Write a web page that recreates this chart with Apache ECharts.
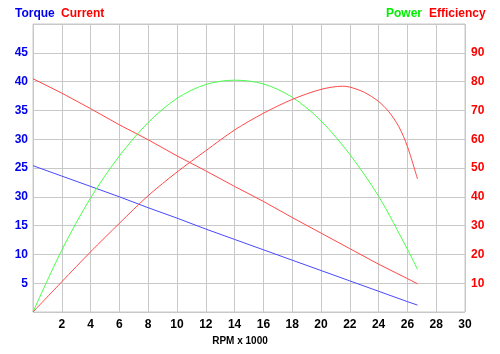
<!DOCTYPE html>
<html>
<head>
<meta charset="utf-8">
<title>Motor curves</title>
<script src="https://cdn.jsdelivr.net/npm/echarts@6/dist/echarts.min.js"></script>
<style>
  html, body { margin: 0; padding: 0; background: #fff; }
  #main { width: 500px; height: 354px; }
</style>
</head>
<body>
<div id="main"></div>
<script>
// RPM x 1000
const rpm = [0, 2, 4, 6, 8, 10, 12, 14, 16, 18, 20, 22, 24, 26, 26.7];
// left axis
const torque  = [25.4, 23.6, 21.8, 20.0, 18.1, 16.3, 14.4, 12.6, 10.8, 9.0, 7.2, 5.4, 3.6, 1.8, 1.2];
const current = [40.5, 38.0, 35.3, 32.5, 29.9, 27.1, 24.5, 21.8, 19.2, 16.4, 13.7, 11.0, 8.3, 5.8, 4.9];
// right axis
const power = [0, 21.5, 39.6, 54.2, 65.8, 74.2, 79.0, 80.5, 79.2, 74.6, 66.4, 54.7, 40.2, 21.8, 14.8];
const effRpm = [0, 2, 4, 6, 8, 10, 12, 14, 16, 18, 20, 21.5, 22, 23, 24, 24.7, 25.4, 26, 26.7];
const efficiency = [0, 10.5, 20.9, 30.8, 40.4, 48.6, 56.0, 63.2, 69.0, 73.8, 77.3, 78.4, 78.1, 76.3, 73.1, 69.6, 64.4, 57.5, 46.2];

// tick labels as printed on the original (note the "30" where 20 sits)
const leftTickLabels  = ['', '5', '10', '15', '30', '25', '30', '35', '40', '45', ''];
const rightTickLabels = ['', '10', '20', '30', '40', '50', '60', '70', '80', '90', ''];
const xTitle = 'RPM x 1000';
const leftNames = ['Torque', 'Current'];
const rightNames = ['Power', 'Efficiency'];

const BLUE = '#0000ee', RED = '#ff0000', GREEN = '#00ee00';
const FONT = '"Liberation Sans", Arial, sans-serif';

function pairs(xs, ys) {
    return xs.map((x, i) => [x, ys[i]]);
}

const chart = echarts.init(document.getElementById('main'));

chart.setOption({
    animation: false,
    grid: {
        left: 33, right: 35, top: 24, bottom: 42,
        show: true, borderColor: '#c8c8c8', borderWidth: 1
    },
    xAxis: {
        type: 'value', min: 0, max: 30, interval: 2,
        axisLine: { show: false },
        axisTick: { show: false },
        splitLine: { lineStyle: { color: '#c8c8c8' } },
        axisLabel: {
            margin: 7, color: '#000', fontFamily: FONT, fontWeight: 'bold', fontSize: 12,
            formatter: v => v === 0 ? '' : String(v)
        }
    },
    yAxis: [{
        type: 'value', min: 0, max: 50, interval: 5,
        axisLine: { show: false },
        axisTick: { show: false },
        splitLine: { lineStyle: { color: '#c8c8c8' } },
        axisLabel: {
            margin: 5, color: BLUE, fontFamily: FONT, fontWeight: 'bold', fontSize: 12,
            formatter: v => leftTickLabels[Math.round(v / 5)]
        }
    }, {
        type: 'value', min: 0, max: 100, interval: 10,
        axisLine: { show: false },
        axisTick: { show: false },
        splitLine: { show: false },
        axisLabel: {
            margin: 6, color: RED, fontFamily: FONT, fontWeight: 'bold', fontSize: 12,
            formatter: v => rightTickLabels[Math.round(v / 10)]
        }
    }],
    graphic: [
        { type: 'text', left: 15, top: 8, style: { text: leftNames[0], fill: BLUE, font: 'bold 12px ' + FONT } },
        { type: 'text', left: 61, top: 8, style: { text: leftNames[1], fill: RED, font: 'bold 12px ' + FONT } },
        { type: 'text', left: 386, top: 8, style: { text: rightNames[0], fill: GREEN, font: 'bold 12px ' + FONT } },
        { type: 'text', left: 429, top: 8, style: { text: rightNames[1], fill: RED, font: 'bold 12px ' + FONT } },
        { type: 'text', x: 240, y: 341, style: { text: xTitle, fill: '#000', font: 'bold 10px ' + FONT, align: 'center', verticalAlign: 'middle' } }
    ],
    series: [{
        name: 'Torque', type: 'line', yAxisIndex: 0, showSymbol: false,
        lineStyle: { color: '#4848ff', width: 1 },
        data: pairs(rpm, torque)
    }, {
        name: 'Current', type: 'line', yAxisIndex: 0, showSymbol: false,
        lineStyle: { color: '#ff4848', width: 1 },
        data: pairs(rpm, current)
    }, {
        name: 'Power', type: 'line', yAxisIndex: 1, showSymbol: false, smooth: 0.3,
        lineStyle: { color: '#48ff48', width: 1 },
        data: pairs(rpm, power)
    }, {
        name: 'Efficiency', type: 'line', yAxisIndex: 1, showSymbol: false, smooth: 0.3,
        lineStyle: { color: '#ff4848', width: 1 },
        data: pairs(effRpm, efficiency)
    }]
});
</script>
</body>
</html>
